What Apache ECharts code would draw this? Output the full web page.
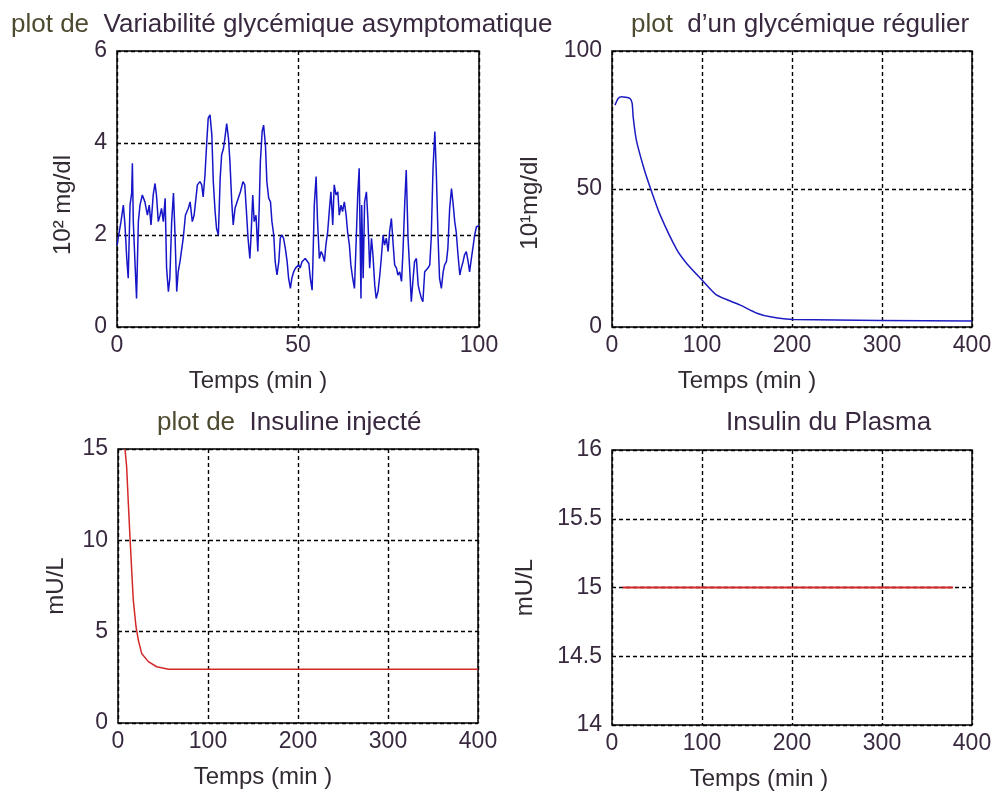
<!DOCTYPE html>
<html>
<head>
<meta charset="utf-8">
<script src="https://cdn.jsdelivr.net/npm/echarts@6/dist/echarts.min.js"></script>
<style>
  html, body { margin: 0; padding: 0; background: #ffffff; }
  #chart { width: 1006px; height: 802px; }
</style>
</head>
<body>
<div id="chart"></div>
<script>
// Variabilité glycémique asymptomatique (10^2 mg/dl) over 0..100 min
const variabT = [0, 1.1, 1.75, 2.2, 2.7, 3.1, 3.6, 4.05, 4.25, 4.5, 5.0, 5.4, 5.9, 6.35, 7.0, 7.7, 8.4, 8.9, 9.4, 10.0,
  10.5, 10.9, 11.4, 11.9, 12.3, 12.8, 13.3, 13.7, 14.2, 14.6, 15.1, 15.6, 16.0, 16.5, 16.9, 17.4, 17.9, 18.3, 18.9, 19.7,
  20.2, 20.8, 21.3, 21.7, 22.2, 22.9, 23.4, 23.8, 24.3, 24.8, 25.2, 25.7, 26.2, 26.6, 27.1, 27.5, 28.0, 28.5, 28.9, 29.4,
  29.8, 30.3, 30.8, 31.2, 31.7, 32.1, 32.6, 33.5, 34.1, 34.8, 35.3, 35.7, 36.2, 36.7, 37.0, 37.5, 37.9, 38.4, 38.9, 39.3,
  39.6, 40.1, 40.5, 41.0, 41.4, 41.9, 42.4, 42.8, 43.3, 43.7, 44.2, 44.7, 45.1, 45.6, 46.0, 46.5, 47.0, 47.4, 47.9, 48.3,
  48.8, 49.3, 49.7, 50.2, 50.6, 51.1, 51.6, 52.0, 52.5, 53.0, 53.4, 53.9, 54.1, 54.5, 55.0, 55.4, 55.9, 56.4, 56.8, 57.3,
  57.7, 58.2, 58.7, 59.1, 59.6, 60.0, 60.5, 61.0, 61.4, 61.9, 62.3, 62.8, 63.3, 63.7, 64.2, 64.6, 65.1, 65.6, 66.0, 66.5,
  66.9, 67.4, 67.6, 68.0, 68.4, 68.9, 69.3, 69.8, 70.3, 70.7, 71.2, 71.6, 72.1, 72.6, 73.0, 73.5, 73.9, 74.4, 74.9, 75.3,
  75.8, 76.3, 76.7, 77.2, 77.6, 78.1, 78.6, 79.0, 79.5, 79.9, 80.4, 80.9, 81.3, 81.8, 82.2, 82.7, 83.2, 83.6, 84.1, 84.5,
  85.0, 85.5, 85.9, 86.4, 86.8, 87.3, 87.8, 88.2, 88.7, 89.1, 89.6, 90.1, 90.5, 91.0, 91.4, 91.9, 92.4, 92.8, 93.3, 93.7,
  94.2, 94.7, 95.1, 95.6, 96.0, 96.5, 97.0, 97.4, 97.9, 98.3, 98.8, 99.3, 99.7, 100];
const variabV = [1.78, 2.29, 2.65, 2.22, 1.49, 1.06, 2.65, 2.91, 3.56, 2.29, 1.35, 0.62, 2.29, 2.65, 2.87, 2.72, 2.43, 2.65, 2.22, 2.87,
  3.12, 2.87, 2.29, 2.43, 2.58, 2.29, 2.80, 1.28, 0.77, 1.06, 2.29, 2.91, 2.07, 0.77, 1.20, 1.42, 1.71, 1.93, 2.43, 2.58,
  2.72, 2.29, 2.43, 2.72, 3.09, 3.16, 3.09, 2.83, 3.30, 4.03, 4.54, 4.61, 4.17, 3.16, 2.51, 2.14, 2.00, 3.23, 3.74, 3.88,
  4.10, 4.42, 4.10, 3.59, 2.72, 2.22, 2.58, 2.80, 2.94, 3.16, 3.09, 2.58, 1.93, 1.49, 1.93, 2.87, 2.29, 2.43, 1.64, 2.65,
  3.59, 4.25, 4.39, 3.96, 3.16, 2.80, 2.72, 2.29, 2.00, 1.42, 1.13, 1.42, 1.93, 2.00, 1.93, 1.71, 1.42, 1.06, 0.84, 1.06,
  1.20, 1.28, 1.24, 1.35, 1.28, 1.42, 1.46, 1.49, 1.49, 1.38, 1.06, 0.80, 1.35, 2.65, 3.27, 2.29, 1.49, 1.64, 1.57, 1.42,
  1.78, 2.07, 2.58, 2.94, 2.22, 3.09, 2.87, 2.94, 2.43, 2.65, 2.51, 2.72, 2.43, 2.07, 1.78, 1.35, 1.06, 0.84, 1.71, 2.87,
  3.45, 0.62, 2.65, 1.06, 2.72, 2.94, 2.36, 1.28, 1.93, 1.57, 0.91, 0.62, 0.77, 1.13, 1.49, 2.00, 1.78, 1.93, 1.64, 2.07,
  2.36, 1.78, 1.35, 1.28, 1.13, 1.20, 0.99, 1.64, 2.72, 3.41, 1.93, 1.20, 0.55, 1.06, 1.42, 1.49, 0.91, 0.77, 0.62, 0.55,
  1.20, 1.20, 1.28, 1.35, 1.93, 3.45, 4.25, 3.38, 1.93, 1.06, 0.84, 1.20, 1.35, 1.42, 1.71, 2.58, 3.01, 2.72, 2.29, 2.07,
  1.57, 1.13, 1.28, 1.42, 1.57, 1.64, 1.42, 1.20, 1.49, 1.71, 2.00, 2.18, 2.14, 2.20];

// Glycémie régulée (10^1 mg/dl) over 0..400 min
const glycT = [3.3, 6.9, 10.6, 19.8, 22.4, 23.5, 27, 35, 43, 53, 72, 83, 100, 116, 142, 161, 176, 202, 400];
const glycV = [80.4, 82.8, 83.4, 82.8, 81, 76.2, 67.8, 58, 50, 41, 28, 23, 17, 11.6, 8, 5, 3.7, 2.7, 2.2];

// Insuline injectée (mU/L)
const injT = [7.8, 9.6, 11.5, 13.3, 15.2, 17.0, 20.0, 22.6, 26.3, 33.7, 43, 56, 400];
const injV = [15.0, 14.03, 12.02, 10.2, 8.37, 6.73, 5.27, 4.54, 3.81, 3.36, 3.08, 2.94, 2.94];

// Insuline du plasma (mU/L)
const plasmaT = [12, 379];
const plasmaV = [15, 15];

// Titles and axis labels
const titles = [
  'plot de  Variabilité glycémique asymptomatique',
  'plot  d\u2019un glycémique régulier',
  'plot de  Insuline injecté',
  'Insulin du Plasma'
];
const xLabel = 'Temps (min )';
const yLabels = ['10\u00B2 mg/dl', '10\u00B9mg/dl', 'mU/L', 'mU/L'];

const zip = (xs, ys) => xs.map((x, i) => [x, ys[i]]);

const FONT = '"Liberation Sans", Arial, sans-serif';
const tickColor = '#38293f';
const labelColor = '#332b33';

const grids = [
  { left: 117, top: 51, width: 362, height: 276 },
  { left: 612, top: 51, width: 360, height: 276 },
  { left: 118, top: 449, width: 360, height: 274 },
  { left: 612, top: 450, width: 360, height: 275 }
].map(g => Object.assign({ show: true, borderColor: '#000', borderWidth: 1.5, backgroundColor: '#fff' }, g));

const splitLine = { show: true, lineStyle: { color: '#000', type: [4, 3], width: 1.4 } };

function xAxis(i, max, interval, padRight) {
  return {
    type: 'value', gridIndex: i, min: 0, max: max, interval: interval,
    axisLine: { show: false }, axisTick: { show: false }, splitLine: splitLine,
    axisLabel: { color: tickColor, fontFamily: FONT, fontSize: 23, margin: 7, showMaxLabel: true, showMinLabel: true },
    name: xLabel, nameLocation: 'middle', nameGap: 42,
    nameTextStyle: { color: labelColor, fontFamily: FONT, fontSize: 24, padding: [0, padRight, 0, 0] }
  };
}
// shiftDown moves a rotated axis name toward the bottom of its axis
function yAxis(i, min, max, interval, gap, shiftDown, fmt) {
  return {
    type: 'value', gridIndex: i, min: min, max: max, interval: interval,
    axisLine: { show: false }, axisTick: { show: false }, splitLine: splitLine,
    axisLabel: { color: tickColor, fontFamily: FONT, fontSize: 23, margin: 10, formatter: fmt },
    name: yLabels[i], nameLocation: 'middle', nameGap: gap, nameRotate: 90,
    nameTextStyle: { color: labelColor, fontFamily: FONT, fontSize: 24, padding: [0, shiftDown * 2, 0, 0] }
  };
}

function titleAt(i, left, top) {
  const parts = titles[i].match(/^(plot(?: de)?)(.*)$/);
  const text = parts ? '{a|' + parts[1] + '}{b|' + parts[2] + '}' : '{b|' + titles[i] + '}';
  return {
    text: text, left: left, top: top,
    textStyle: {
      fontFamily: FONT, fontSize: 26, fontWeight: 'normal',
      rich: {
        a: { color: '#4e4a30', fontFamily: FONT, fontSize: 26 },
        b: { color: '#38293f', fontFamily: FONT, fontSize: 26 }
      }
    }
  };
}

const chart = echarts.init(document.getElementById('chart'), null, { renderer: 'canvas' });
chart.setOption({
  backgroundColor: '#ffffff',
  animation: false,
  title: [titleAt(0, 6, 7), titleAt(1, 626, 7), titleAt(2, 152, 405), titleAt(3, 721, 405)],
  grid: grids,
  xAxis: [
    xAxis(0, 100, 50, 80),
    xAxis(1, 400, 100, 90),
    xAxis(2, 400, 100, 70),
    xAxis(3, 400, 100, 66)
  ],
  yAxis: [
    yAxis(0, 0, 6, 2, 42, 16),
    yAxis(1, 0, 100, 50, 70, 14),
    yAxis(2, 0, 15, 5, 50, 0),
    yAxis(3, 14, 16, 0.5, 75, 0, v => (v % 1 === 0 ? String(v) : v.toFixed(1)))
  ],
  series: [
    { type: 'line', xAxisIndex: 0, yAxisIndex: 0, data: zip(variabT, variabV), showSymbol: false,
      lineStyle: { color: '#1616c8', width: 1.5 }, clip: true },
    { type: 'line', xAxisIndex: 1, yAxisIndex: 1, data: zip(glycT, glycV), showSymbol: false, smooth: 0.2,
      lineStyle: { color: '#1c1cc0', width: 1.5 }, clip: true },
    { type: 'line', xAxisIndex: 2, yAxisIndex: 2, data: zip(injT, injV), showSymbol: false,
      lineStyle: { color: '#d42828', width: 1.5 }, clip: true },
    { type: 'line', xAxisIndex: 3, yAxisIndex: 3, data: zip(plasmaT, plasmaV), showSymbol: false, z: 5,
      lineStyle: { color: '#d42828', width: 2 }, clip: true }
  ]
});
</script>
</body>
</html>
